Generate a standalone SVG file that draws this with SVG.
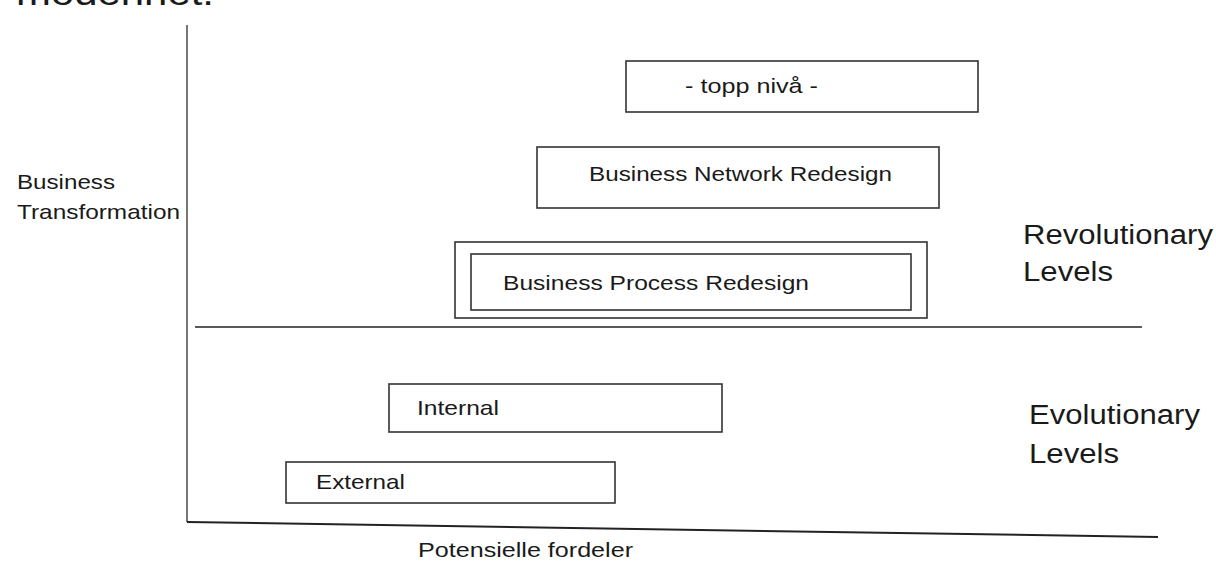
<svg xmlns="http://www.w3.org/2000/svg" width="1216" height="562" viewBox="0 0 1216 562">
<style>
text{font-family:"Liberation Sans",Arial,sans-serif;fill:#1a1a1a}
.box{fill:#fff;stroke:#333;stroke-width:1.6}
.lbl{font-size:21px}
.side{font-size:21px}
.big{font-size:27px}
.axis{stroke-width:2;fill:none}
</style>
<rect width="1216" height="562" fill="#fff"/>
<text x="16" y="5" style="font-size:35px" textLength="198" lengthAdjust="spacingAndGlyphs">modenhet.</text>
<g id="axes">
<line class="axis" x1="187" y1="25" x2="187" y2="522" stroke="#777"/>
<path class="axis" d="M187 522 L1158 537" stroke="#222"/>
<line x1="195" y1="327" x2="1142" y2="327" stroke="#222" stroke-width="1.5"/>
</g>
<g id="top">
<rect class="box" x="626" y="61" width="352" height="51"/>
<text class="lbl" x="685" y="93" textLength="133" lengthAdjust="spacingAndGlyphs">- topp nivå -</text>
</g>
<g id="bnr">
<rect class="box" x="537" y="147" width="402" height="61"/>
<text class="lbl" x="589" y="181" textLength="303" lengthAdjust="spacingAndGlyphs">Business Network Redesign</text>
</g>
<g id="bpr">
<rect class="box" x="455" y="242" width="472" height="76"/>
<rect class="box" x="471" y="254" width="440" height="56"/>
<text class="lbl" x="503" y="290" textLength="306" lengthAdjust="spacingAndGlyphs">Business Process Redesign</text>
</g>
<g id="internal">
<rect class="box" x="389" y="384" width="333" height="48"/>
<text class="lbl" x="417" y="415" textLength="82" lengthAdjust="spacingAndGlyphs">Internal</text>
</g>
<g id="external">
<rect class="box" x="286" y="462" width="329" height="41"/>
<text class="lbl" x="316" y="489" textLength="89" lengthAdjust="spacingAndGlyphs">External</text>
</g>
<g id="labels">
<text class="side" x="17" y="189" textLength="98" lengthAdjust="spacingAndGlyphs">Business</text>
<text class="side" x="17" y="219" textLength="163" lengthAdjust="spacingAndGlyphs">Transformation</text>
<text class="big" x="1023" y="244" textLength="190" lengthAdjust="spacingAndGlyphs">Revolutionary</text>
<text class="big" x="1023" y="281" textLength="90" lengthAdjust="spacingAndGlyphs">Levels</text>
<text class="big" x="1029" y="424" textLength="171" lengthAdjust="spacingAndGlyphs">Evolutionary</text>
<text class="big" x="1029" y="463" textLength="90" lengthAdjust="spacingAndGlyphs">Levels</text>
<text class="side" x="418" y="557" textLength="215" lengthAdjust="spacingAndGlyphs">Potensielle fordeler</text>
</g>
</svg>
